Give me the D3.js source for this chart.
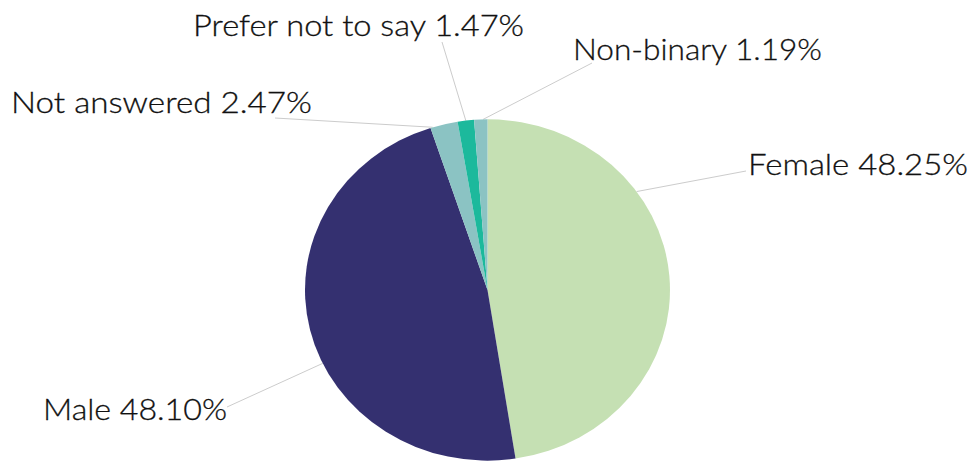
<!DOCTYPE html>
<html>
<head>
<meta charset="utf-8">
<script src="https://cdn.jsdelivr.net/npm/d3@7/dist/d3.min.js"></script>
<style>
  html, body { margin: 0; padding: 0; background: #ffffff; }
  svg { display: block; }
  text { font-family: Lato, "Noto Sans", sans-serif; font-weight: 300; }
</style>
</head>
<body>
<svg id="chart" width="974" height="462"></svg>
<script>
// Gender breakdown of respondents
const categories = ["Female", "Male", "Not answered", "Prefer not to say", "Non-binary"];
const values = [48.25, 48.10, 2.47, 1.47, 1.19];
const colors = ["#c5e0b3", "#343070", "#8bc3c3", "#1cb99c", "#8bc3c3"];

// Label placement: baseline position, target width, leader end point,
// and where along its slice the leader touches the pie (0..1).
const labelLayout = [
  { x: 748, y: 175, w: 220, end: [746, 171], frac: 0.32 },
  { x: 43,  y: 420, w: 184, end: [227, 407], frac: 0.43 },
  { x: 11,  y: 112.5, w: 301, end: [275, 118], frac: 0.08 },
  { x: 193, y: 36,  w: 331, end: [442, 42],  frac: 0.5 },
  { x: 573, y: 60,  w: 249, end: [592, 63],  frac: 0.67 }
];

const cx = 487.5, cy = 290, r = 182.5, sy = 0.935;

const svg = d3.select("#chart");

const pie = d3.pie().sort(null).value(d => d);
const arcs = pie(values);
const arc = d3.arc().innerRadius(0).outerRadius(r);

// Leader lines (drawn under the pie)
const leaders = svg.append("g").attr("class", "leaders");
arcs.forEach((a, i) => {
  const L = labelLayout[i];
  const ang = a.startAngle + (a.endAngle - a.startAngle) * L.frac;
  const px = cx + r * Math.sin(ang);
  const py = cy - r * Math.cos(ang) * sy;
  leaders.append("line")
    .attr("x1", px).attr("y1", py)
    .attr("x2", L.end[0]).attr("y2", L.end[1])
    .attr("stroke", "#cccccc")
    .attr("stroke-width", 1);
});

// Pie slices
const g = svg.append("g")
  .attr("transform", `translate(${cx},${cy}) scale(1,${sy})`);
g.selectAll("path")
  .data(arcs)
  .join("path")
  .attr("d", arc)
  .attr("fill", (d, i) => colors[i]);

// Labels
const labels = svg.append("g").attr("class", "labels");
categories.forEach((c, i) => {
  const L = labelLayout[i];
  labels.append("text")
    .attr("x", L.x)
    .attr("y", L.y)
    .attr("font-size", 30)
    .attr("fill", "#111111")
    .attr("stroke", "#111111")
    .attr("stroke-width", 0.3)
    .attr("textLength", L.w)
    .attr("lengthAdjust", "spacingAndGlyphs")
    .text(`${c} ${values[i].toFixed(2)}%`);
});
</script>
</body>
</html>
